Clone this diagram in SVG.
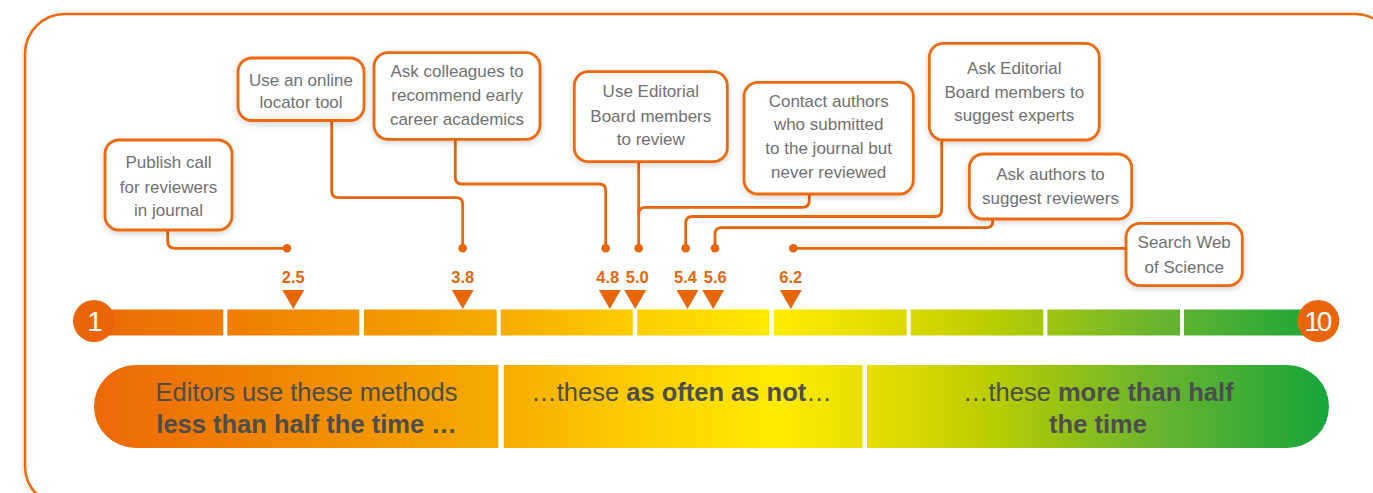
<svg xmlns="http://www.w3.org/2000/svg" width="1373" height="493" viewBox="0 0 1373 493">
<defs>
  <linearGradient id="scale" gradientUnits="userSpaceOnUse" x1="80" y1="0" x2="1325" y2="0">
    <stop offset="0" stop-color="#EC6608"/>
    <stop offset="0.18" stop-color="#F08A00"/>
    <stop offset="0.34" stop-color="#F6AC00"/>
    <stop offset="0.45" stop-color="#FDCE00"/>
    <stop offset="0.56" stop-color="#FFEB00"/>
    <stop offset="0.66" stop-color="#DCD900"/>
    <stop offset="0.73" stop-color="#BACD00"/>
    <stop offset="0.86" stop-color="#6CB52E"/>
    <stop offset="1" stop-color="#19A63B"/>
  </linearGradient>
  <filter id="shadow" x="-20%" y="-20%" width="140%" height="150%">
    <feDropShadow dx="0" dy="2" stdDeviation="3" flood-color="#000" flood-opacity="0.18"/>
  </filter>
  <filter id="fshadow" x="-5%" y="-5%" width="110%" height="115%">
    <feDropShadow dx="0" dy="1" stdDeviation="3" flood-color="#000" flood-opacity="0.15"/>
  </filter>
  <style>
    .box{fill:#fff;stroke:#EC6A0C;stroke-width:2.8;filter:url(#shadow)}
    .lbl{font-family:"Liberation Sans",Arial,sans-serif;font-size:17px;fill:#707070;text-anchor:middle}
    .con{fill:none;stroke:#E8650A;stroke-width:2.8;stroke-linejoin:round}
    .dot{fill:#E8650A}
    .tri{fill:#E8650A}
    .num{font-family:"Liberation Sans",Arial,sans-serif;font-size:16.5px;font-weight:bold;fill:#E8650A;text-anchor:middle}
    .seg{fill:url(#scale)}
    .end{fill:#EA650A}
    .endt{font-family:"Liberation Sans",Arial,sans-serif;font-size:28px;fill:#fff;text-anchor:middle}
    .ban{fill:url(#scale)}
    .bt{font-family:"Liberation Sans",Arial,sans-serif;font-size:25.5px;fill:#4D4D4D;text-anchor:middle}
    .b{font-weight:bold}
  </style>
</defs>
<rect width="1373" height="493" fill="#fff"/>
<rect id="frame" x="25" y="14" width="1370" height="492" rx="40" fill="#fff" stroke="#EC6A0C" stroke-width="2.5" filter="url(#fshadow)"/>

<g id="connectors">
  <path class="con" d="M167.7,230 V241 Q167.7,248.3 175,248.3 H287"/>
  <path class="con" d="M331.7,120.7 V191 Q331.7,197.7 338.5,197.7 H456 Q462.7,197.7 462.7,204.5 V248.3"/>
  <path class="con" d="M455.3,139 V177.5 Q455.3,184 462,184 H599 Q605.7,184 605.7,190.5 V248.3"/>
  <path class="con" d="M638.7,162 V248.3"/>
  <path class="con" d="M809.3,194 V200.5 Q809.3,207.3 802.5,207.3 H645.5 Q638.7,207.3 638.7,214"/>
  <path class="con" d="M941.7,140 V210 Q941.7,216.5 935,216.5 H692.5 Q685.7,216.5 685.7,223.3 V248.3"/>
  <path class="con" d="M992.7,219 V221.5 Q992.7,227.7 986.5,227.7 H721.5 Q715,227.7 715,234.3 V248.3"/>
  <path class="con" d="M1126,248.3 H793.3"/>
  <circle class="dot" cx="287" cy="248.3" r="4.3"/>
  <circle class="dot" cx="462.7" cy="248.3" r="4.3"/>
  <circle class="dot" cx="605.7" cy="248.3" r="4.3"/>
  <circle class="dot" cx="638.7" cy="248.3" r="4.3"/>
  <circle class="dot" cx="685.7" cy="248.3" r="4.3"/>
  <circle class="dot" cx="715" cy="248.3" r="4.3"/>
  <circle class="dot" cx="793.3" cy="248.3" r="4.3"/>
</g>

<g id="node-publish">
  <rect class="box" x="105" y="140" width="127" height="90" rx="14"/>
  <text class="lbl" x="168.5" y="168.3">Publish call</text>
  <text class="lbl" x="168.5" y="192.5">for reviewers</text>
  <text class="lbl" x="168.5" y="216">in journal</text>
</g>
<g id="node-online">
  <rect class="box" x="238" y="58" width="126" height="62.5" rx="14"/>
  <text class="lbl" x="301" y="86">Use an online</text>
  <text class="lbl" x="301" y="108.3">locator tool</text>
</g>
<g id="node-colleagues">
  <rect class="box" x="374" y="52.7" width="166" height="86.6" rx="14"/>
  <text class="lbl" x="457" y="76.7">Ask colleagues to</text>
  <text class="lbl" x="457" y="100.7">recommend early</text>
  <text class="lbl" x="457" y="125">career academics</text>
</g>
<g id="node-editorial-review">
  <rect class="box" x="574.3" y="71.7" width="153" height="90" rx="14"/>
  <text class="lbl" x="650.8" y="97.3">Use Editorial</text>
  <text class="lbl" x="650.8" y="121.5">Board members</text>
  <text class="lbl" x="650.8" y="145">to review</text>
</g>
<g id="node-contact">
  <rect class="box" x="744" y="82.3" width="169.3" height="111.7" rx="14"/>
  <text class="lbl" x="828.7" y="106.7">Contact authors</text>
  <text class="lbl" x="828.7" y="130.3">who submitted</text>
  <text class="lbl" x="828.7" y="154">to the journal but</text>
  <text class="lbl" x="828.7" y="177.7">never reviewed</text>
</g>
<g id="node-editorial-suggest">
  <rect class="box" x="929.3" y="43.3" width="170" height="96.7" rx="14"/>
  <text class="lbl" x="1014.3" y="73.5">Ask Editorial</text>
  <text class="lbl" x="1014.3" y="97.5">Board members to</text>
  <text class="lbl" x="1014.3" y="121.3">suggest experts</text>
</g>
<g id="node-authors">
  <rect class="box" x="969.3" y="154" width="162.4" height="65" rx="14"/>
  <text class="lbl" x="1050.5" y="180">Ask authors to</text>
  <text class="lbl" x="1050.5" y="204">suggest reviewers</text>
</g>
<g id="node-wos">
  <rect class="box" x="1126" y="223.3" width="116.3" height="62.4" rx="14"/>
  <text class="lbl" x="1184.2" y="248.3">Search Web</text>
  <text class="lbl" x="1184.2" y="272.7">of Science</text>
</g>

<g id="markers">
  <text class="num" x="293.3" y="282.7">2.5</text>
  <text class="num" x="462.7" y="282.7">3.8</text>
  <text class="num" x="607.8" y="282.7">4.8</text>
  <text class="num" x="637.2" y="282.7">5.0</text>
  <text class="num" x="685.5" y="282.7">5.4</text>
  <text class="num" x="715.2" y="282.7">5.6</text>
  <text class="num" x="790.8" y="282.7">6.2</text>
  <path class="tri" d="M282.3,290 H304.3 L293.3,309 Z"/>
  <path class="tri" d="M451.7,290 H473.7 L462.7,309 Z"/>
  <path class="tri" d="M598.8,290 H620.8 L609.8,309 Z"/>
  <path class="tri" d="M624.2,290 H646.2 L635.2,309 Z"/>
  <path class="tri" d="M676.5,290 H698.5 L687.5,309 Z"/>
  <path class="tri" d="M702.2,290 H724.2 L713.2,309 Z"/>
  <path class="tri" d="M779.8,290 H801.8 L790.8,309 Z"/>
</g>

<g id="scale-bar">
  <rect class="seg" x="85" y="309.5" width="138.3" height="26"/>
  <rect class="seg" x="227.3" y="309.5" width="132" height="26"/>
  <rect class="seg" x="364" y="309.5" width="132.7" height="26"/>
  <rect class="seg" x="500.7" y="309.5" width="132" height="26"/>
  <rect class="seg" x="637.3" y="309.5" width="132" height="26"/>
  <rect class="seg" x="774" y="309.5" width="132.7" height="26"/>
  <rect class="seg" x="910.7" y="309.5" width="132.6" height="26"/>
  <rect class="seg" x="1047.3" y="309.5" width="132.7" height="26"/>
  <rect class="seg" x="1184" y="309.5" width="128" height="26"/>
  <circle class="end" cx="94" cy="321" r="21"/>
  <text class="endt" x="95" y="331">1</text>
  <circle class="end" cx="1318.3" cy="321" r="21"/>
  <text class="endt" x="1318.3" y="331" textLength="28">10</text>
</g>

<g id="banners">
  <path class="ban" d="M135.5,365 H498.3 V448 H135.5 A41.5,41.5 0 0 1 135.5,365 Z"/>
  <rect class="ban" x="503.8" y="365" width="358.7" height="83"/>
  <path class="ban" d="M867,365 H1287.5 A41.5,41.5 0 0 1 1287.5,448 H867 Z"/>
  <text class="bt" x="306.5" y="401">Editors use these methods</text>
  <text class="bt b" x="306.5" y="433">less than half the time …</text>
  <text class="bt" x="681.5" y="401">…these <tspan class="b">as often as not</tspan>…</text>
  <text class="bt" x="1098.3" y="400.5">…these <tspan class="b">more than half</tspan></text>
  <text class="bt b" x="1098" y="432.5">the time</text>
</g>
</svg>
